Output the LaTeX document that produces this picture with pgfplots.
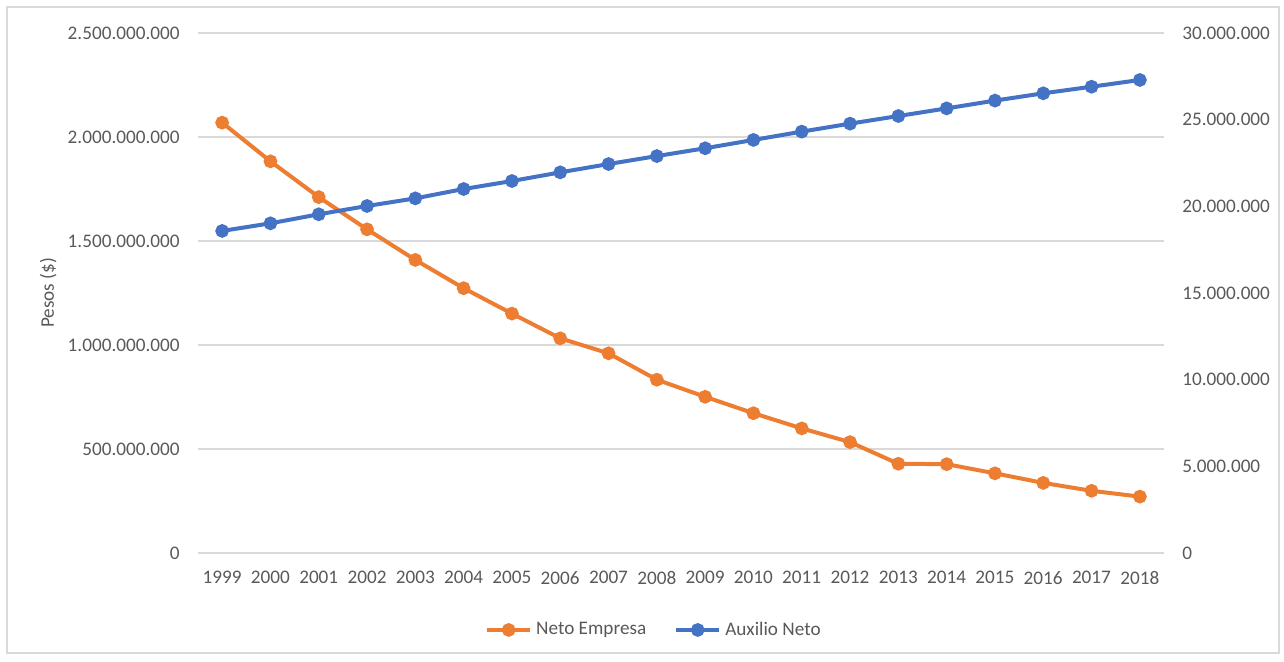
\documentclass[border=0pt]{standalone}
\usepackage{pgfplots}
\pgfplotsset{compat=1.18}
\usepackage{fontspec}
\setmainfont{Carlito}

\definecolor{serOrange}{HTML}{ED7D31}
\definecolor{serBlue}{HTML}{4472C4}
\definecolor{gridgray}{HTML}{D9D9D9}
\definecolor{labelgray}{HTML}{595959}

\pgfplotsset{
  commonaxis/.style={
    at={(99pt,54.5pt)}, anchor=south west,
    scale only axis, width=483pt, height=260pt,
    xmin=1998.5, xmax=2018.5,
    ymin=0,
    axis line style={draw=none},
    major tick length=0pt,
    scaled y ticks=false,
    tick label style={font=\fontsize{9.6}{11}\selectfont, text=labelgray},
    /pgf/number format/assume math mode=true,
    clip=false,
  },
  seriesline/.style={line width=2pt, mark=*, mark size=2.4pt},
}

\begin{document}
\begin{tikzpicture}
\path[use as bounding box] (0,0) rectangle (642pt,331pt);
\draw[gridgray, line width=0.6pt] (3.5pt,4.5pt) rectangle (639.5pt,327.5pt);

% Left axis: Neto Empresa
\begin{axis}[commonaxis,
  ymax=2500000000,
  ytick={0,500000000,1000000000,1500000000,2000000000,2500000000},
  ymajorgrids, grid style={gridgray, line width=0.8pt},
  xtick={1999,...,2018},
  xticklabel style={/pgf/number format/1000 sep={}, anchor=north, inner sep=0pt, yshift=-9pt},
  yticklabel style={/pgf/number format/.cd, fixed, precision=0, 1000 sep={.}, /tikz/.cd, anchor=east, inner sep=0pt, xshift=-9pt},
  ylabel={Pesos (\$)},
  ylabel style={at={(axis description cs:-0.155,0.5)}, anchor=center, font=\fontsize{9.6}{11}\selectfont, text=labelgray},
  legend columns=2,
  legend style={at={(axis description cs:0.473,-0.148)}, anchor=center, draw=none,
    font=\fontsize{9.6}{11}\selectfont, text=labelgray,
    /tikz/every even column/.append style={column sep=12pt}},
  legend image code/.code={\draw[mark repeat=2,mark phase=2] plot coordinates {(0pt,0pt)(10.75pt,0pt)(21.5pt,0pt)};},
]
\addplot[seriesline, color=serOrange] coordinates {
  (1999,2069000000) (2000,1883000000) (2001,1711000000) (2002,1556000000)
  (2003,1409000000) (2004,1273000000) (2005,1151000000) (2006,1032000000)
  (2007,960000000)  (2008,833000000)  (2009,751000000)  (2010,672000000)
  (2011,599000000)  (2012,533000000)  (2013,429000000)  (2014,427000000)
  (2015,383000000)  (2016,337000000)  (2017,299000000)  (2018,271000000)
};
\addlegendentry{Neto Empresa}
\addlegendimage{seriesline, color=serBlue}
\addlegendentry{Auxilio Neto}
\end{axis}

% Right axis: Auxilio Neto
\begin{axis}[commonaxis,
  ymax=30000000,
  ytick={0,5000000,10000000,15000000,20000000,25000000,30000000},
  axis x line=none,
  axis y line*=right,
  yticklabel style={/pgf/number format/.cd, fixed, precision=0, 1000 sep={.}, /tikz/.cd, anchor=west, inner sep=0pt, xshift=9pt},
]
\addplot[seriesline, color=serBlue] coordinates {
  (1999,18580000) (2000,19020000) (2001,19540000) (2002,20020000)
  (2003,20460000) (2004,21000000) (2005,21460000) (2006,21960000)
  (2007,22440000) (2008,22900000) (2009,23350000) (2010,23830000)
  (2011,24310000) (2012,24770000) (2013,25210000) (2014,25650000)
  (2015,26100000) (2016,26520000) (2017,26900000) (2018,27290000)
};
\end{axis}
\end{tikzpicture}
\end{document}
